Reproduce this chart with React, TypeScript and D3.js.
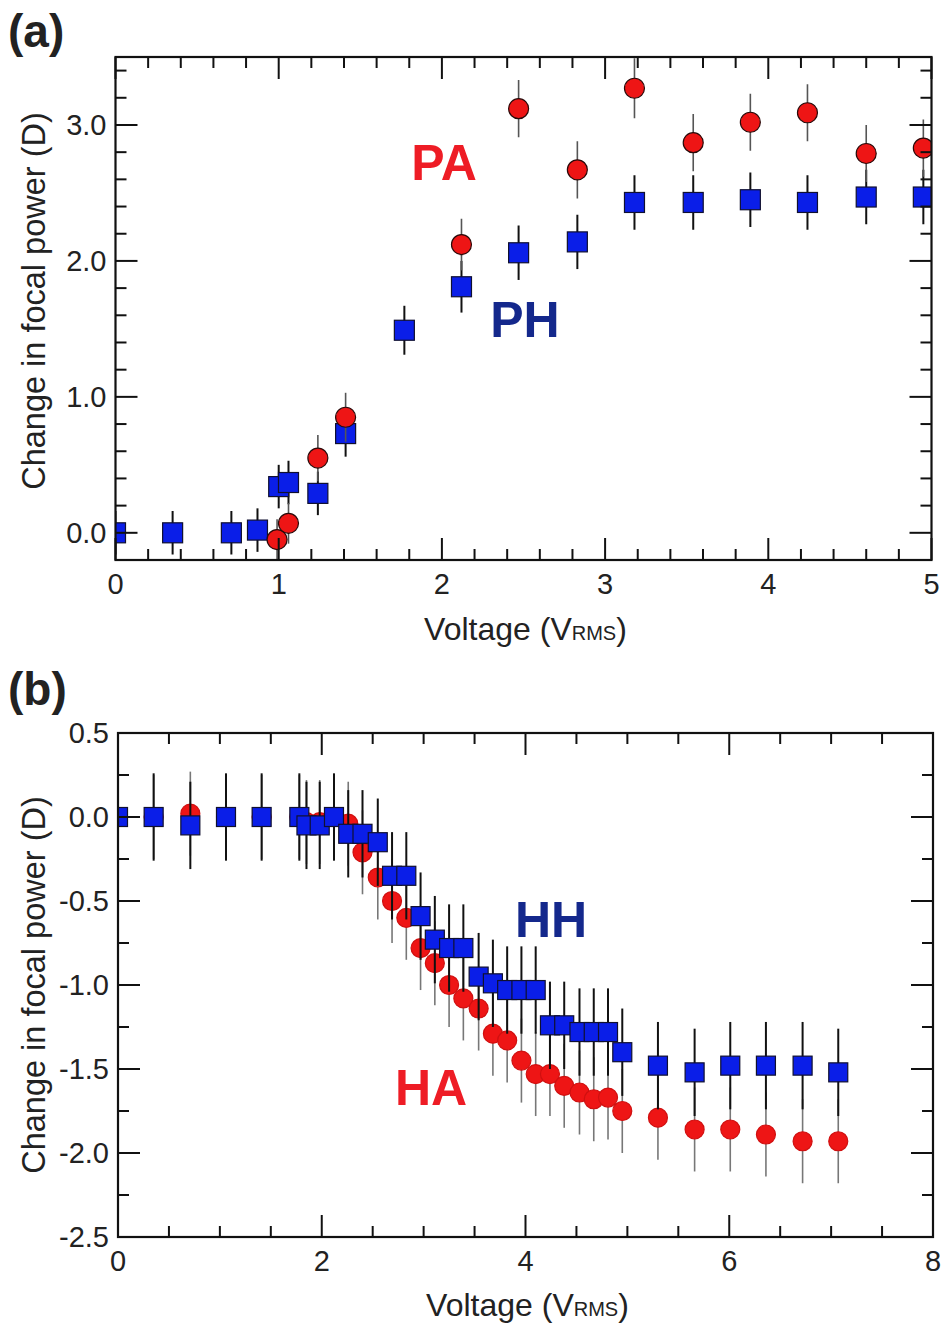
import React from "react";
import * as d3 from "d3";

// ---------- Panel (a) data ----------
const aPH_x = [0, 0.35, 0.71, 0.87, 1.0, 1.06, 1.24, 1.41, 1.77, 2.12, 2.47, 2.83, 3.18, 3.54, 3.89, 4.24, 4.6, 4.95];
const aPH_y = [0, 0, 0, 0.02, 0.34, 0.37, 0.29, 0.73, 1.49, 1.81, 2.06, 2.14, 2.43, 2.43, 2.45, 2.43, 2.47, 2.47];
const aPH_err = [0.16, 0.16, 0.16, 0.16, 0.16, 0.16, 0.16, 0.17, 0.18, 0.19, 0.2, 0.2, 0.2, 0.2, 0.2, 0.2, 0.2, 0.2];

const aPA_x = [0.99, 1.06, 1.24, 1.41, 2.12, 2.47, 2.83, 3.18, 3.54, 3.89, 4.24, 4.6, 4.95];
const aPA_y = [-0.05, 0.07, 0.55, 0.85, 2.12, 3.12, 2.67, 3.27, 2.87, 3.02, 3.09, 2.79, 2.83];
const aPA_err = [0.15, 0.15, 0.17, 0.18, 0.19, 0.21, 0.21, 0.22, 0.21, 0.21, 0.21, 0.21, 0.21];

// ---------- Panel (b) data ----------
const bX = [0, 0.35, 0.71, 1.06, 1.41, 1.78, 1.85, 1.98, 2.12, 2.26, 2.4, 2.55, 2.69, 2.83, 2.97, 3.11, 3.25, 3.39, 3.54, 3.68, 3.82, 3.96, 4.1, 4.24, 4.38, 4.53, 4.67, 4.81, 4.95, 5.3, 5.66, 6.01, 6.36, 6.72, 7.07];
const bHH_y = [0, 0, -0.05, 0, 0, 0, -0.05, -0.05, 0, -0.1, -0.1, -0.15, -0.35, -0.35, -0.59, -0.73, -0.78, -0.78, -0.95, -0.99, -1.03, -1.03, -1.03, -1.24, -1.24, -1.28, -1.28, -1.28, -1.4, -1.48, -1.52, -1.48, -1.48, -1.48, -1.52];
const bHA_y = [0, 0, 0.02, 0, 0, 0, -0.03, -0.03, 0, -0.04, -0.21, -0.36, -0.5, -0.6, -0.78, -0.87, -1.0, -1.08, -1.14, -1.29, -1.33, -1.45, -1.53, -1.53, -1.6, -1.64, -1.68, -1.67, -1.75, -1.79, -1.86, -1.86, -1.89, -1.93, -1.93];
const bHH_err = 0.26;
const bHA_err = 0.25;

// ---------- Axis tick values ----------
const aXMajor = [0, 1, 2, 3, 4, 5];
const aYMajor = [0, 1, 2, 3];
const bXMajor = [0, 2, 4, 6, 8];
const bYMajor = [0.5, 0, -0.5, -1, -1.5, -2, -2.5];

const FONT = "'Liberation Sans', Arial, Helvetica, sans-serif";
const RED = "#ee1515";
const BLUE = "#0a1ee8";
const NAVY = "#14288c";
const LABEL_RED = "#ee1c25";

type Series = {
  xs: number[];
  ys: number[];
  errs: number[];
  kind: "square" | "circle";
  size: number;
  fill: string;
  stroke: string;
  barColor: string;
  barWidth: number;
};

type PanelProps = {
  id: string;
  x0: number; x1: number; y0: number; y1: number;
  xDomain: [number, number];
  yDomain: [number, number];
  xMajor: number[];
  xMinorStep: number;
  yMajor: number[];
  yMinorStep: number;
  yFmt: (v: number) => string;
  series: Series[];
  yTitleCenter: number;
  xTitleBaseline: number;
};

function range(a: number, b: number, step: number) {
  const out: number[] = [];
  const start = Math.ceil(a / step - 1e-6);
  const end = Math.floor(b / step + 1e-6);
  for (let i = start; i <= end; i++) out.push(+(i * step).toFixed(6));
  return out;
}

function Panel(p: PanelProps) {
  const x = d3.scaleLinear().domain(p.xDomain).range([p.x0, p.x1]);
  const y = d3.scaleLinear().domain(p.yDomain).range([p.y1, p.y0]);
  const major = 22;
  const minor = 11;
  const xMinor = range(p.xDomain[0], p.xDomain[1], p.xMinorStep).filter(v => !p.xMajor.some(m => Math.abs(m - v) < 1e-6));
  const yMinor = range(p.yDomain[0], p.yDomain[1], p.yMinorStep).filter(v => !p.yMajor.some(m => Math.abs(m - v) < 1e-6));
  const tickStyle = { stroke: "#111", strokeWidth: 2 };
  return (
    <g>
      <defs>
        <clipPath id={p.id}>
          <rect x={p.x0} y={p.y0} width={p.x1 - p.x0} height={p.y1 - p.y0} />
        </clipPath>
      </defs>
      <g clipPath={`url(#${p.id})`}>
        {p.series.map((s, si) => (
          <g key={si}>
            {s.xs.map((xv, i) => (
              <line key={"e" + i} x1={x(xv)} x2={x(xv)} y1={y(s.ys[i] - s.errs[i])} y2={y(s.ys[i] + s.errs[i])}
                stroke={s.barColor} strokeWidth={s.barWidth} />
            ))}
            {s.xs.map((xv, i) =>
              s.kind === "square" ? (
                <rect key={"m" + i} x={x(xv) - s.size / 2} y={y(s.ys[i]) - s.size / 2} width={s.size} height={s.size}
                  fill={s.fill} stroke={s.stroke} strokeWidth={1.2} />
              ) : (
                <circle key={"m" + i} cx={x(xv)} cy={y(s.ys[i])} r={s.size / 2} fill={s.fill} stroke={s.stroke} strokeWidth={1.2} />
              )
            )}
          </g>
        ))}
      </g>
      {/* frame */}
      <rect x={p.x0} y={p.y0} width={p.x1 - p.x0} height={p.y1 - p.y0} fill="none" stroke="#111" strokeWidth={2.2} />
      {/* x ticks bottom & top */}
      {p.xMajor.map(v => (
        <g key={"xm" + v}>
          <line x1={x(v)} x2={x(v)} y1={p.y1} y2={p.y1 - major} {...tickStyle} />
          <line x1={x(v)} x2={x(v)} y1={p.y0} y2={p.y0 + major} {...tickStyle} />
          <text x={x(v)} y={p.y1 + 34} textAnchor="middle" fontSize={29} fontFamily={FONT} fill="#222">{String(v)}</text>
        </g>
      ))}
      {xMinor.map(v => (
        <g key={"xn" + v}>
          <line x1={x(v)} x2={x(v)} y1={p.y1} y2={p.y1 - minor} {...tickStyle} />
          <line x1={x(v)} x2={x(v)} y1={p.y0} y2={p.y0 + minor} {...tickStyle} />
        </g>
      ))}
      {p.yMajor.map(v => (
        <g key={"ym" + v}>
          <line x1={p.x0} x2={p.x0 + major} y1={y(v)} y2={y(v)} {...tickStyle} />
          <line x1={p.x1} x2={p.x1 - major} y1={y(v)} y2={y(v)} {...tickStyle} />
          <text x={p.x0 - 9} y={y(v)} dy="0.36em" textAnchor="end" fontSize={29} fontFamily={FONT} fill="#222">{p.yFmt(v)}</text>
        </g>
      ))}
      {yMinor.map(v => (
        <g key={"yn" + v}>
          <line x1={p.x0} x2={p.x0 + minor} y1={y(v)} y2={y(v)} {...tickStyle} />
          <line x1={p.x1} x2={p.x1 - minor} y1={y(v)} y2={y(v)} {...tickStyle} />
        </g>
      ))}
      {/* axis titles */}
      <text transform={`translate(45,${p.yTitleCenter}) rotate(-90)`} textAnchor="middle" fontSize={32.5} fontFamily={FONT} fill="#222">
        Change in focal power (D)
      </text>
      <text x={(p.x0 + p.x1) / 2 + 2} y={p.xTitleBaseline} textAnchor="middle" fontSize={32} fontFamily={FONT} fill="#222">
        Voltage (V<tspan fontSize={20}>RMS</tspan>)
      </text>
    </g>
  );
}

export default function App() {
  const fmtA = (v: number) => d3.format(".1f")(v);
  const fmtB = (v: number) => d3.format(".1f")(v).replace("−", "-");

  const seriesA: Series[] = [
    { xs: aPH_x, ys: aPH_y, errs: aPH_err, kind: "square", size: 20, fill: BLUE, stroke: "#101030", barColor: "#111", barWidth: 2 },
    { xs: aPA_x, ys: aPA_y, errs: aPA_err, kind: "circle", size: 20, fill: RED, stroke: "#2a0a0a", barColor: "#555", barWidth: 1.6 },
  ];
  const seriesB: Series[] = [
    { xs: bX, ys: bHA_y, errs: bX.map(() => bHA_err), kind: "circle", size: 19, fill: RED, stroke: "#d01010", barColor: "#777", barWidth: 1.6 },
    { xs: bX, ys: bHH_y, errs: bX.map(() => bHH_err), kind: "square", size: 19, fill: BLUE, stroke: "#101030", barColor: "#111", barWidth: 2 },
  ];

  return (
    <svg width={941} height={1326} style={{ position: "absolute", left: 0, top: 0, background: "#fff" }}>
      <rect x={0} y={0} width={941} height={1326} fill="#fff" />
      <text x={8} y={47} fontSize={46} fontWeight="bold" fontFamily={FONT} fill="#222">(a)</text>
      <Panel id="clipA" x0={115.5} x1={931.5} y0={57} y1={560}
        xDomain={[0, 5]} yDomain={[-0.2, 3.5]}
        xMajor={aXMajor} xMinorStep={0.2} yMajor={aYMajor} yMinorStep={0.2}
        yFmt={fmtA} series={seriesA} yTitleCenter={301} xTitleBaseline={640} />
      <text x={444} y={180} textAnchor="middle" fontSize={50} fontWeight="bold" fontFamily={FONT} fill={LABEL_RED}>PA</text>
      <text x={525} y={337} textAnchor="middle" fontSize={50} fontWeight="bold" fontFamily={FONT} fill={NAVY}>PH</text>

      <text x={8} y={705} fontSize={46} fontWeight="bold" fontFamily={FONT} fill="#222">(b)</text>
      <Panel id="clipB" x0={118} x1={933} y0={733} y1={1237}
        xDomain={[0, 8]} yDomain={[-2.5, 0.5]}
        xMajor={bXMajor} xMinorStep={0.5} yMajor={bYMajor} yMinorStep={0.25}
        yFmt={fmtB} series={seriesB} yTitleCenter={985} xTitleBaseline={1316} />
      <text x={551} y={937} textAnchor="middle" fontSize={50} fontWeight="bold" fontFamily={FONT} fill={NAVY}>HH</text>
      <text x={431} y={1105} textAnchor="middle" fontSize={50} fontWeight="bold" fontFamily={FONT} fill={LABEL_RED}>HA</text>
    </svg>
  );
}
